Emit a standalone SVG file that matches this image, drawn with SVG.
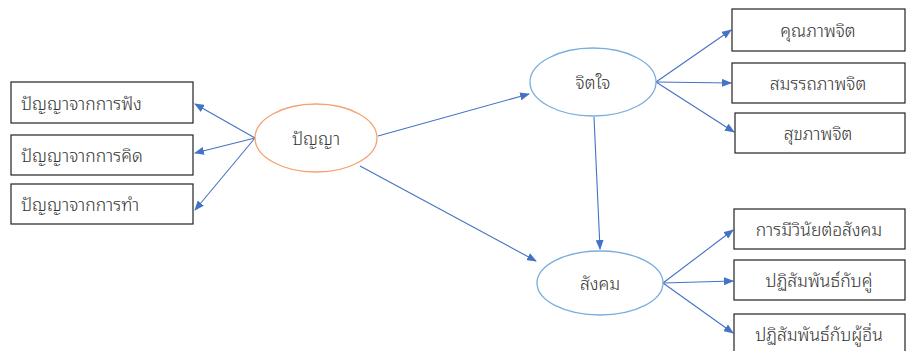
<svg xmlns="http://www.w3.org/2000/svg" width="908" height="351" viewBox="0 0 908 351">
<style>
.box{fill:#fff;stroke:#222;stroke-width:1.2}
.t{font-family:"Noto Sans Thai Looped","Noto Sans Thai","Noto Sans","DejaVu Sans",sans-serif;font-size:17.5px;font-weight:300;fill:#333}
.c{stroke:#4472C4;stroke-width:1.1;fill:none;marker-end:url(#a)}
</style>
<defs>
<marker id="a" markerWidth="10" markerHeight="8" refX="9" refY="4" orient="auto" markerUnits="userSpaceOnUse">
<path d="M0,0 L10,4 L0,8 z" fill="#4472C4"/>
</marker>
</defs>
<rect width="908" height="351" fill="#fff"/>
<g id="connectors">
<line class="c" x1="255" y1="138" x2="195" y2="104"/>
<line class="c" x1="255" y1="138" x2="195" y2="153"/>
<line class="c" x1="255" y1="138" x2="195" y2="210"/>
<line class="c" x1="378" y1="136" x2="529" y2="94"/>
<line class="c" x1="360" y1="166" x2="536" y2="261"/>
<line class="c" x1="594" y1="117" x2="600" y2="249"/>
<line class="c" x1="656" y1="82" x2="731" y2="30"/>
<line class="c" x1="656" y1="82" x2="731" y2="83"/>
<line class="c" x1="656" y1="82" x2="734" y2="132"/>
<line class="c" x1="663" y1="283" x2="733" y2="230"/>
<line class="c" x1="663" y1="283" x2="733" y2="281"/>
<line class="c" x1="663" y1="283" x2="733" y2="333"/>
</g>
<g id="n-listen"><rect class="box" x="11" y="82" width="182" height="41"/><text class="t" x="21" y="110">ปัญญาจากการฟัง</text></g>
<g id="n-think"><rect class="box" x="11" y="135" width="182" height="40"/><text class="t" x="21" y="162">ปัญญาจากการคิด</text></g>
<g id="n-do"><rect class="box" x="11" y="184" width="182" height="40"/><text class="t" x="21" y="211">ปัญญาจากการทำ</text></g>
<g id="n-wisdom"><ellipse cx="316" cy="138" rx="61" ry="34" fill="#fff" stroke="#F4A270" stroke-width="1.3"/><text class="t" x="316" y="145" text-anchor="middle">ปัญญา</text></g>
<g id="n-mind"><ellipse cx="593" cy="82" rx="63" ry="34" fill="#fff" stroke="#7AAEDD" stroke-width="1.3"/><text class="t" x="593" y="89" text-anchor="middle">จิตใจ</text></g>
<g id="n-society"><ellipse cx="600" cy="283" rx="63" ry="32" fill="#fff" stroke="#7AAEDD" stroke-width="1.3"/><text class="t" x="600" y="290" text-anchor="middle">สังคม</text></g>
<g id="n-quality"><rect class="box" x="732" y="9" width="173" height="42"/><text class="t" x="818" y="37" text-anchor="middle">คุณภาพจิต</text></g>
<g id="n-capacity"><rect class="box" x="732" y="63" width="173" height="40"/><text class="t" x="818" y="90" text-anchor="middle">สมรรถภาพจิต</text></g>
<g id="n-health"><rect class="box" x="735" y="113" width="170" height="40"/><text class="t" x="818" y="140" text-anchor="middle">สุขภาพจิต</text></g>
<g id="n-discipline"><rect class="box" x="734" y="209" width="171" height="40"/><text class="t" x="819" y="236" text-anchor="middle">การมีวินัยต่อสังคม</text></g>
<g id="n-partner"><rect class="box" x="734" y="260" width="171" height="40"/><text class="t" x="819" y="287" text-anchor="middle">ปฏิสัมพันธ์กับคู่</text></g>
<g id="n-others"><rect class="box" x="734" y="314" width="171" height="45"/><text class="t" x="819" y="341" text-anchor="middle">ปฏิสัมพันธ์กับผู้อื่น</text></g>
</svg>
